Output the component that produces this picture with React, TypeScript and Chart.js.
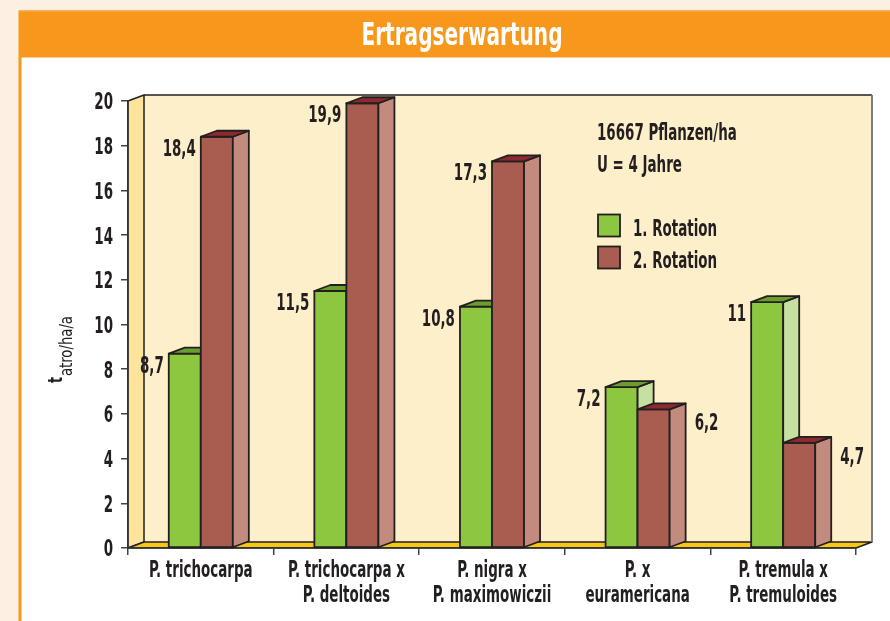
import React, { useEffect, useRef } from 'react';
import { Chart, registerables } from 'chart.js';

Chart.register(...registerables);

// ---------- data ----------
const categories: string[][] = [
  ['P. trichocarpa'],
  ['P. trichocarpa x', 'P. deltoides'],
  ['P. nigra x', 'P. maximowiczii'],
  ['P. x', 'euramericana'],
  ['P. tremula x', 'P. tremuloides'],
];
const seriesNames = ['1. Rotation', '2. Rotation'];
const rotation1 = [8.7, 11.5, 10.8, 7.2, 11];
const rotation2 = [18.4, 19.9, 17.3, 6.2, 4.7];
const yMin = 0;
const yMax = 20;
const yStep = 2;
const titleText = 'Ertragserwartung';
const noteLines = ['16667 Pflanzen/ha', 'U = 4 Jahre'];
const yTitleMain = 't';
const yTitleSub = 'atro/ha/a';

// ---------- styles ----------
const FONT = '"DejaVu Sans Condensed", "DejaVu Sans", sans-serif';
const INK = '#231f20';
const FRONT = ['#8dc63f', '#a95c50'];
const SIDE = ['#c6e0a2', '#c38b7d'];
const TOP = ['#6a9e2e', '#8b2a2f'];
const DX = 16;
const DY = -6;
const TXT = 23;
const WEIGHT = 'bold';
const LW = 1.8;

function fmt(v: number) {
  return String(v).replace('.', ',');
}

function condFactor(ctx: CanvasRenderingContext2D, size: number, weight: string, ratio = 0.55) {
  ctx.save();
  ctx.font = `${weight} ${size}px ${FONT}`;
  const cap = ctx.measureText('H').actualBoundingBoxAscent || size * 0.73;
  const d = ctx.measureText('0').width;
  ctx.restore();
  return (ratio * cap) / d;
}

function drawText(
  ctx: CanvasRenderingContext2D,
  s: string,
  x: number,
  y: number,
  size: number,
  align: 'left' | 'right' | 'center',
  color: string,
  weight = WEIGHT,
  sx?: number
) {
  const f = sx ?? condFactor(ctx, size, weight);
  ctx.save();
  ctx.font = `${weight} ${size}px ${FONT}`;
  ctx.fillStyle = color;
  ctx.textBaseline = 'alphabetic';
  ctx.textAlign = 'left';
  const w = ctx.measureText(s).width * f;
  const left = align === 'left' ? x : align === 'right' ? x - w : x - w / 2;
  ctx.translate(left, y);
  ctx.scale(f, 1);
  ctx.fillText(s, 0, 0);
  ctx.restore();
}

function poly(ctx: CanvasRenderingContext2D, pts: number[][], fill: string | null, stroke: string | null, lw = LW) {
  ctx.beginPath();
  pts.forEach((p, i) => (i === 0 ? ctx.moveTo(p[0], p[1]) : ctx.lineTo(p[0], p[1])));
  ctx.closePath();
  if (fill) {
    ctx.fillStyle = fill;
    ctx.fill();
  }
  if (stroke) {
    ctx.strokeStyle = stroke;
    ctx.lineWidth = lw;
    ctx.lineJoin = 'round';
    ctx.stroke();
  }
}

function line(ctx: CanvasRenderingContext2D, x1: number, y1: number, x2: number, y2: number, color: string, lw = 1.5) {
  ctx.beginPath();
  ctx.moveTo(x1, y1);
  ctx.lineTo(x2, y2);
  ctx.strokeStyle = color;
  ctx.lineWidth = lw;
  ctx.stroke();
}

const decorPlugin = {
  id: 'decor',
  beforeDraw(chart: any) {
    const { ctx, chartArea: a, width, height } = chart;
    ctx.save();
    ctx.fillStyle = '#fdf0e3';
    ctx.fillRect(0, 0, width, height);
    ctx.fillStyle = '#ffffff';
    ctx.fillRect(21, 57, width - 21, height - 57);
    ctx.fillStyle = '#f7981d';
    ctx.fillRect(18.5, 57, 3, height - 57);
    ctx.fillRect(18.5, 11, width - 18.5, 46.5);
    ctx.fillStyle = '#f9b25a';
    ctx.fillRect(18.5, 10, width - 18.5, 1.5);

    const x0 = a.left, x1 = a.right, y0 = a.top, y1 = a.bottom;
    ctx.fillStyle = '#fdefc9';
    ctx.fillRect(x0 + DX, y0 + DY, x1 - x0, y1 - y0);
    poly(ctx, [[x0, y1], [x0, y0], [x0 + DX, y0 + DY], [x0 + DX, y1 + DY]], '#fde39c', INK, 1.5);
    poly(ctx, [[x0, y1], [x0 + DX, y1 + DY], [x1 + DX, y1 + DY], [x1, y1]], '#f8c70f', INK, 1.5);
    line(ctx, x0 + DX, y0 + DY, x1 + DX, y0 + DY, INK, 1.5);
    line(ctx, x1 + DX, y0 + DY, x1 + DX, y1 + DY, '#7d7d7d', 2);
    ctx.restore();
  },
  afterDatasetsDraw(chart: any) {
    const { ctx } = chart;
    const metas = [chart.getDatasetMeta(0), chart.getDatasetMeta(1)];
    ctx.save();
    // 3D bars, drawn per category: green first, then brown
    for (let j = 0; j < categories.length; j++) {
      for (let i = 0; i < metas.length; i++) {
        const { x, y, base, width } = metas[i].data[j].getProps(['x', 'y', 'base', 'width'], true);
        const l = x - width / 2;
        const r = x + width / 2;
        poly(ctx, [[l, y], [r, y], [r, base], [l, base]], FRONT[i], INK);
        poly(ctx, [[r, y], [r + DX, y + DY], [r + DX, base + DY], [r, base]], SIDE[i], INK);
        poly(ctx, [[l, y], [l + DX, y + DY], [r + DX, y + DY], [r, y]], TOP[i], INK);
      }
    }
    // value labels
    for (let j = 0; j < categories.length; j++) {
      const g = metas[0].data[j].getProps(['x', 'y', 'width'], true);
      const b = metas[1].data[j].getProps(['x', 'y', 'width'], true);
      drawText(ctx, fmt(rotation1[j]), g.x - g.width / 2 - 5, g.y + 19, TXT, 'right', INK);
      if (rotation2[j] >= rotation1[j]) {
        drawText(ctx, fmt(rotation2[j]), b.x - b.width / 2 - 5, b.y + 19, TXT, 'right', INK);
      } else {
        drawText(ctx, fmt(rotation2[j]), b.x + b.width / 2 + DX + 9, b.y + 21, TXT, 'left', INK);
      }
    }
    ctx.restore();
  },
  afterDraw(chart: any) {
    const { ctx } = chart;
    const xs = chart.scales.x;
    const ys = chart.scales.y;
    ctx.save();
    // y tick labels (from the library's y scale)
    ys.ticks.forEach((t: any, i: number) => {
      const py = ys.getPixelForTick(i);
      drawText(ctx, String(t.value), xs.left - 15, py + 8.4, TXT, 'right', INK);
    });
    // x tick labels (from the library's category scale)
    xs.ticks.forEach((_t: any, i: number) => {
      const px = xs.getPixelForTick(i);
      const lines = categories[i];
      lines.forEach((s, k) => {
        drawText(ctx, s, px, 577 + k * 25, TXT, 'center', INK);
      });
    });
    // title
    ctx.save();
    ctx.font = `bold 32px ${FONT}`;
    const tW = ctx.measureText(titleText).width;
    ctx.restore();
    drawText(ctx, titleText, 462, 45, 32, 'center', '#ffffff', 'bold', 201 / tW);
    // note
    drawText(ctx, noteLines[0], 597, 140, TXT, 'left', INK);
    drawText(ctx, noteLines[1], 597, 172, TXT, 'left', INK);
    // legend
    const boxY = [214.5, 246.5];
    for (let k = 0; k < seriesNames.length; k++) {
      ctx.fillStyle = FRONT[k];
      ctx.fillRect(598, boxY[k], 22, 22);
      ctx.strokeStyle = INK;
      ctx.lineWidth = LW;
      ctx.strokeRect(598, boxY[k], 22, 22);
      drawText(ctx, seriesNames[k], 633, boxY[k] + 21.5, TXT, 'left', INK);
    }
    // y-axis title (rotated, with subscript)
    ctx.translate(62, 383);
    ctx.rotate(-Math.PI / 2);
    ctx.fillStyle = INK;
    ctx.textBaseline = 'alphabetic';
    ctx.textAlign = 'left';
    ctx.font = `bold 19px ${FONT}`;
    const f1 = condFactor(ctx, 19, 'bold', 0.62);
    const tw = ctx.measureText(yTitleMain).width * f1;
    ctx.save();
    ctx.scale(f1, 1);
    ctx.fillText(yTitleMain, 0, 0);
    ctx.restore();
    ctx.font = `normal 17px ${FONT}`;
    const sw = ctx.measureText(yTitleSub).width;
    const f2 = 60 / sw;
    ctx.save();
    ctx.translate(tw + 1, 10);
    ctx.scale(f2, 1);
    ctx.fillText(yTitleSub, 0, 0);
    ctx.restore();
    ctx.restore();
  },
};

export default function App() {
  const ref = useRef<HTMLCanvasElement | null>(null);

  useEffect(() => {
    if (!ref.current) return;
    const hidden = 'rgba(0,0,0,0)';
    const chart = new Chart(ref.current, {
      type: 'bar',
      data: {
        labels: categories,
        datasets: [
          {
            label: seriesNames[0],
            data: rotation1,
            backgroundColor: hidden,
            borderWidth: 0,
            categoryPercentage: 0.44,
            barPercentage: 1,
          },
          {
            label: seriesNames[1],
            data: rotation2,
            backgroundColor: hidden,
            borderWidth: 0,
            categoryPercentage: 0.44,
            barPercentage: 1,
          },
        ],
      },
      options: {
        responsive: false,
        animation: false,
        devicePixelRatio: 1,
        layout: { padding: { top: 101, right: 34, left: 0, bottom: 0 } },
        plugins: {
          legend: { display: false },
          title: { display: false },
          tooltip: { enabled: false },
        },
        scales: {
          x: {
            offset: true,
            grid: {
              display: true,
              offset: true,
              drawOnChartArea: false,
              drawTicks: true,
              tickLength: 7,
              color: '#444',
              lineWidth: 1.5,
            },
            border: { display: true, color: '#333', width: 1.5 },
            ticks: {
              color: hidden,
              padding: 2,
              maxRotation: 0,
              autoSkip: false,
              font: { family: FONT, size: 12 },
            },
            afterFit: (s: any) => {
              s.height = 73;
            },
          },
          y: {
            min: yMin,
            max: yMax,
            grid: {
              display: true,
              drawOnChartArea: false,
              drawTicks: true,
              tickLength: 7,
              color: '#444',
              lineWidth: 1.5,
            },
            border: { display: true, color: '#333', width: 1.5 },
            ticks: {
              stepSize: yStep,
              color: hidden,
              padding: 8,
              font: { family: FONT, size: 12 },
            },
            afterFit: (s: any) => {
              s.width = 128;
            },
          },
        },
      },
      plugins: [decorPlugin],
    });
    return () => chart.destroy();
  }, []);

  return (
    <div style={{ position: 'absolute', left: 0, top: 0, width: 890, height: 621 }}>
      <canvas ref={ref} width={890} height={621} style={{ display: 'block' }} />
    </div>
  );
}
